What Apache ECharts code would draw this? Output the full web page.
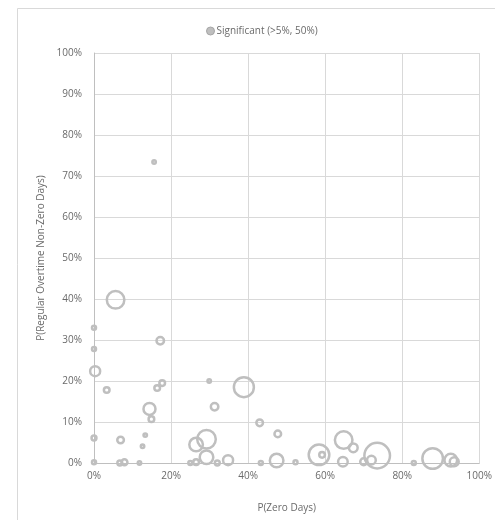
<!DOCTYPE html>
<html>
<head>
<meta charset="utf-8">
<script src="https://cdn.jsdelivr.net/npm/echarts@6/dist/echarts.min.js"></script>
<style>
html,body{margin:0;padding:0;background:#fff;}
#c{width:495px;height:520px;}
</style>
</head>
<body>
<div id="c"></div>
<script>
// P(Zero Days) in %
var zeroDays = [15.6, 5.6, 0, 0, 0.3, 17.2, 3.3, 16.4, 17.7, 14.4, 14.9, 0, 6.9, 13.3, 12.6, 0, 6.7, 7.9, 11.8,
  29.9, 38.9, 31.3, 43, 47.7, 29.2, 26.5, 29.2, 34.8, 25, 26.5, 32, 43.3, 47.4,
  58.4, 59.2, 52.3, 64.8, 67.3, 64.6, 73.5, 72, 70, 83, 87.9, 92.6, 93.5];
// P(Regular Overtime Non-Zero Days) in %
var nonZeroDays = [73.4, 39.8, 33, 27.8, 22.4, 29.8, 17.8, 18.3, 19.5, 13.2, 10.7, 6.1, 5.6, 6.8, 4.1, 0.2, 0, 0.2, 0,
  20, 18.5, 13.7, 9.8, 7.1, 5.8, 4.5, 1.4, 0.7, 0, 0.2, 0, 0, 0.6,
  2, 2, 0.2, 5.6, 3.7, 0.3, 1.8, 0.7, 0.3, 0, 1.1, 0.7, 0.3];
// bubble weights
var weights = [3, 77, 4, 4, 25, 14, 8, 8, 8, 36, 8, 6, 11, 3, 3, 4, 6, 9, 3,
  3, 100, 14, 11, 11, 86, 46, 46, 25, 4, 8, 6, 4, 46,
  106, 8, 4, 77, 19, 23, 164, 19, 12, 4, 106, 40, 20];
var seriesName = 'Significant (>5%, 50%)';
var xTitle = 'P(Zero Days)';
var yTitle = 'P(Regular Overtime Non-Zero Days)';

var data = zeroDays.map(function (x, i) { return [x, nonZeroDays[i], weights[i]]; });

var chart = echarts.init(document.getElementById('c'), null, {renderer: 'canvas'});
var txt = '#6a6a6a';
var font = 'Open Sans';
chart.setOption({
  animation: false,
  backgroundColor: '#fff',
  graphic: [{
    type: 'rect', shape: {x: 17.5, y: 8.5, width: 520, height: 540},
    style: {fill: 'none', stroke: '#d9d9d9', lineWidth: 1}, silent: true, z: -1
  }],
  grid: {left: 94, right: 11, top: 53, bottom: 57},
  legend: {
    top: 21, left: 201,
    icon: 'circle', itemWidth: 8, itemHeight: 8, itemGap: 2,
    textStyle: {color: txt, fontSize: 10, fontFamily: font, padding: [0, 0, 0, -3]},
    data: [{name: seriesName, itemStyle: {color: '#bfbfbf', borderColor: '#a6a6a6', borderWidth: 1}}]
  },
  xAxis: {
    type: 'value', min: 0, max: 100, interval: 20,
    name: xTitle, nameLocation: 'middle', nameGap: 40,
    nameTextStyle: {color: txt, fontSize: 10, fontFamily: font},
    axisLine: {show: true, lineStyle: {color: '#bfbfbf'}},
    axisTick: {show: false},
    axisLabel: {formatter: '{value}%', color: txt, fontSize: 10, fontFamily: font, margin: 8},
    splitLine: {show: true, lineStyle: {color: '#d9d9d9', width: 1}}
  },
  yAxis: {
    type: 'value', min: 0, max: 100, interval: 10,
    name: yTitle, nameLocation: 'middle', nameGap: 48,
    nameTextStyle: {color: txt, fontSize: 10, fontFamily: font},
    axisLine: {show: true, lineStyle: {color: '#bfbfbf'}},
    axisTick: {show: false},
    axisLabel: {formatter: '{value}%', color: txt, fontSize: 10, fontFamily: font, margin: 12},
    splitLine: {show: true, lineStyle: {color: '#d9d9d9', width: 1}}
  },
  series: [{
    name: seriesName,
    type: 'scatter',
    data: data,
    symbol: 'circle',
    symbolSize: function (v) { return 2 * Math.sqrt(v[2]); },
    itemStyle: {color: 'rgba(255,255,255,0)', borderColor: '#bfbfbf', borderWidth: 2.5, opacity: 1},
    clip: false
  }]
});
</script>
</body>
</html>
